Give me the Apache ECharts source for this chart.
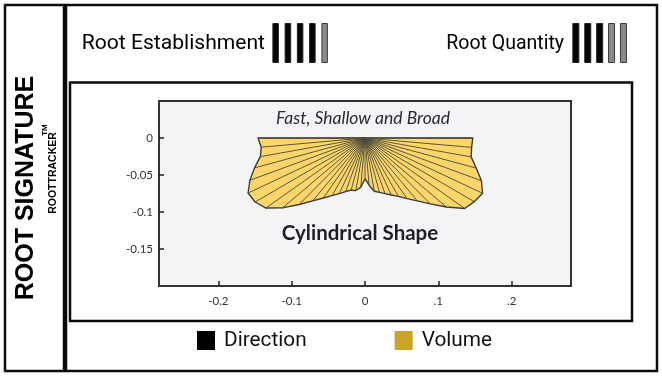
<!DOCTYPE html>
<html>
<head>
<meta charset="utf-8">
<script src="https://cdn.jsdelivr.net/npm/echarts@6/dist/echarts.min.js"></script>
<style>
  html, body { margin: 0; padding: 0; background: #ffffff; }
  #chart { width: 662px; height: 378px; }
</style>
</head>
<body>
<div id="chart"></div>
<script>
// ---- Data ----
// Direction of each root ray, degrees below horizontal measured from the left (0 = left, 90 = straight down, 180 = right)
const directionDeg = [0, 5, 10, 15, 20, 25, 30, 35, 40, 45, 50, 55, 60, 65, 70, 75, 80, 85, 90,
                      95, 100, 105, 110, 115, 120, 125, 130, 135, 140, 145, 150, 155, 160, 165, 170, 175, 180];
// Reach (volume radius) along each direction, in axis units
const volumeRadius = [0.146, 0.142, 0.145, 0.156, 0.167, 0.176, 0.173, 0.165, 0.147, 0.127, 0.111, 0.099, 0.090,
                      0.083, 0.077, 0.073, 0.072, 0.067, 0.055, 0.064, 0.073, 0.076, 0.080, 0.085, 0.091, 0.100,
                      0.111, 0.126, 0.145, 0.166, 0.172, 0.177, 0.169, 0.157, 0.147, 0.146, 0.147];

const xTickValues = [-0.2, -0.1, 0, 0.1, 0.2];
const xTickLabels = ['-0.2', '-0.1', '0', '.1', '.2'];
const yTickValues = [0, -0.05, -0.1, -0.15];
const yTickLabels = ['0', '-0.05', '-0.1', '-0.15'];

const ratingSlots = ['1', '2', '3', '4', '5'];
const establishmentBars = [1, 1, 1, 1, 1];
const establishmentFilled = [1, 1, 1, 1, 0];
const quantityBars = [1, 1, 1, 1, 1];
const quantityFilled = [1, 1, 1, 0, 0];

const subtitleText = 'Fast, Shallow and Broad';
const shapeText = 'Cylindrical Shape';

// ---- Build vertices from polar data ----
const vertices = directionDeg.map((d, i) => {
  const a = d * Math.PI / 180;
  return [-volumeRadius[i] * Math.cos(a), -volumeRadius[i] * Math.sin(a)];
});

const chart = echarts.init(document.getElementById('chart'), null, { renderer: 'canvas' });

function ratingData(bars, filled) {
  return bars.map((v, i) => ({
    value: v,
    itemStyle: filled[i]
      ? { color: '#050505', borderColor: '#222', borderWidth: 1 }
      : { color: '#8a8a8a', borderColor: '#3a3a3a', borderWidth: 1 }
  }));
}

const frameStroke = '#0a0a0a';
const frameW = 2.5;

const option = {
  backgroundColor: '#ffffff',
  animation: false,
  grid: [
    { left: 159, top: 101, width: 412, height: 185, show: true, backgroundColor: '#f3f4f6',
      borderColor: '#333', borderWidth: 2, containLabel: false },
    { left: 269.5, top: 23, width: 61.25, height: 40 },
    { left: 569.9, top: 23, width: 59.5, height: 40 }
  ],
  xAxis: [
    { gridIndex: 0, type: 'value', min: -0.281, max: 0.281,
      axisLine: { show: false, onZero: false },
      splitLine: { show: false },
      axisTick: { show: true, inside: true, length: 5, customValues: xTickValues,
                  lineStyle: { color: '#222', width: 1.5 } },
      axisLabel: { customValues: xTickValues, margin: 9, color: '#333', fontSize: 11.5,
                   fontFamily: 'Lato',
                   formatter: v => { const i = xTickValues.findIndex(t => Math.abs(t - v) < 1e-9); return i >= 0 ? xTickLabels[i] : ''; } }
    },
    { gridIndex: 1, type: 'category', data: ratingSlots, show: false },
    { gridIndex: 2, type: 'category', data: ratingSlots, show: false }
  ],
  yAxis: [
    { gridIndex: 0, type: 'value', min: -0.2, max: 0.05, interval: 0.05,
      axisLine: { show: false, onZero: false },
      splitLine: { show: false },
      axisTick: { show: true, inside: true, length: 5, customValues: yTickValues,
                  lineStyle: { color: '#222', width: 1.5 } },
      axisLabel: { customValues: yTickValues, margin: 6, color: '#333', fontSize: 11.5,
                   fontFamily: 'Lato',
                   formatter: v => { const i = yTickValues.findIndex(t => Math.abs(t - v) < 1e-9); return i >= 0 ? yTickLabels[i] : ''; } }
    },
    { gridIndex: 1, type: 'value', min: 0, max: 1, show: false },
    { gridIndex: 2, type: 'value', min: 0, max: 1, show: false }
  ],
  legend: {
    left: 197, top: 330, padding: 0,
    itemWidth: 18, itemHeight: 19, itemGap: 88,
    icon: 'rect',
    selectedMode: false,
    textStyle: { fontFamily: 'Roboto', fontSize: 20.8, color: '#111', padding: [0, 0, 0, 4] },
    data: [
      { name: 'Direction', itemStyle: { color: '#000000' } },
      { name: 'Volume', itemStyle: { color: '#c9a427' } }
    ]
  },
  series: [
    {
      name: 'Volume', type: 'custom', xAxisIndex: 0, yAxisIndex: 0,
      itemStyle: { color: '#c9a427' },
      data: [[0, 0]],
      renderItem: function (params, api) {
        const pts = [api.coord([0, 0])].concat(vertices.map(v => api.coord(v)));
        return { type: 'polygon', shape: { points: pts },
                 style: { fill: '#fcd66a', stroke: '#3c3c3c', lineWidth: 1.4, lineJoin: 'round' } };
      },
      z: 2
    },
    {
      name: 'Direction', type: 'custom', xAxisIndex: 0, yAxisIndex: 0,
      itemStyle: { color: '#000000' },
      encode: { x: 0, y: 1 },
      data: vertices,
      renderItem: function (params, api) {
        const o = api.coord([0, 0]);
        const p = api.coord([api.value(0), api.value(1)]);
        return { type: 'line', shape: { x1: o[0], y1: o[1], x2: p[0], y2: p[1] },
                 style: { stroke: '#4a4838', lineWidth: 0.9 } };
      },
      z: 3
    },
    {
      name: 'Root Establishment', type: 'bar', xAxisIndex: 1, yAxisIndex: 1,
      barWidth: 6.5, data: ratingData(establishmentBars, establishmentFilled), silent: true
    },
    {
      name: 'Root Quantity', type: 'bar', xAxisIndex: 2, yAxisIndex: 2,
      barWidth: 7, data: ratingData(quantityBars, quantityFilled), silent: true
    }
  ],
  graphic: [
    // frames
    { type: 'rect', shape: { x: 5, y: 5, width: 59, height: 366 },
      style: { fill: 'none', stroke: frameStroke, lineWidth: frameW }, z: 10 },
    { type: 'rect', shape: { x: 66, y: 5, width: 591, height: 366 },
      style: { fill: 'none', stroke: frameStroke, lineWidth: frameW }, z: 10 },
    { type: 'rect', shape: { x: 70, y: 82.5, width: 562, height: 238.5 },
      style: { fill: 'none', stroke: frameStroke, lineWidth: frameW }, z: 10 },
    // left vertical titles
    { type: 'text', x: 26, y: 188, rotation: Math.PI / 2,
      style: { text: 'ROOT SIGNATURE', fontFamily: 'Liberation Sans', fontWeight: 'bold', fontSize: 25,
               fill: '#000', align: 'center', verticalAlign: 'middle' }, z: 10 },
    { type: 'text', x: 53, y: 173, rotation: Math.PI / 2,
      style: { text: 'ROOTTRACKER', fontFamily: 'Liberation Sans', fontWeight: 'bold', fontSize: 10.5,
               fill: '#000', align: 'center', verticalAlign: 'middle' }, z: 10 },
    { type: 'text', x: 45, y: 130, rotation: Math.PI / 2,
      style: { text: 'TM', fontFamily: 'Liberation Sans', fontWeight: 'bold', fontSize: 8,
               fill: '#000', align: 'center', verticalAlign: 'middle' }, z: 10 },
    // header labels
    { type: 'text', x: 265, y: 44,
      style: { text: 'Root Establishment', fontFamily: 'Roboto', fontSize: 21.1, fill: '#000',
               align: 'right', verticalAlign: 'middle' }, z: 10 },
    { type: 'text', x: 564, y: 44,
      style: { text: 'Root Quantity', fontFamily: 'Roboto', fontSize: 19.5, fill: '#000',
               align: 'right', verticalAlign: 'middle' }, z: 10 },
    // plot annotations
    { type: 'text', x: 363, y: 118,
      style: { text: subtitleText, fontFamily: 'Lato', fontStyle: 'italic', fontSize: 17.5, fill: '#2a2a36',
               align: 'center', verticalAlign: 'middle' }, z: 10 },
    { type: 'text', x: 360, y: 233,
      style: { text: shapeText, fontFamily: 'Lato', fontWeight: 'bold', fontSize: 20.5, fill: '#1e1e24',
               align: 'center', verticalAlign: 'middle' }, z: 10 }
  ]
};

chart.setOption(option);
</script>
</body>
</html>
